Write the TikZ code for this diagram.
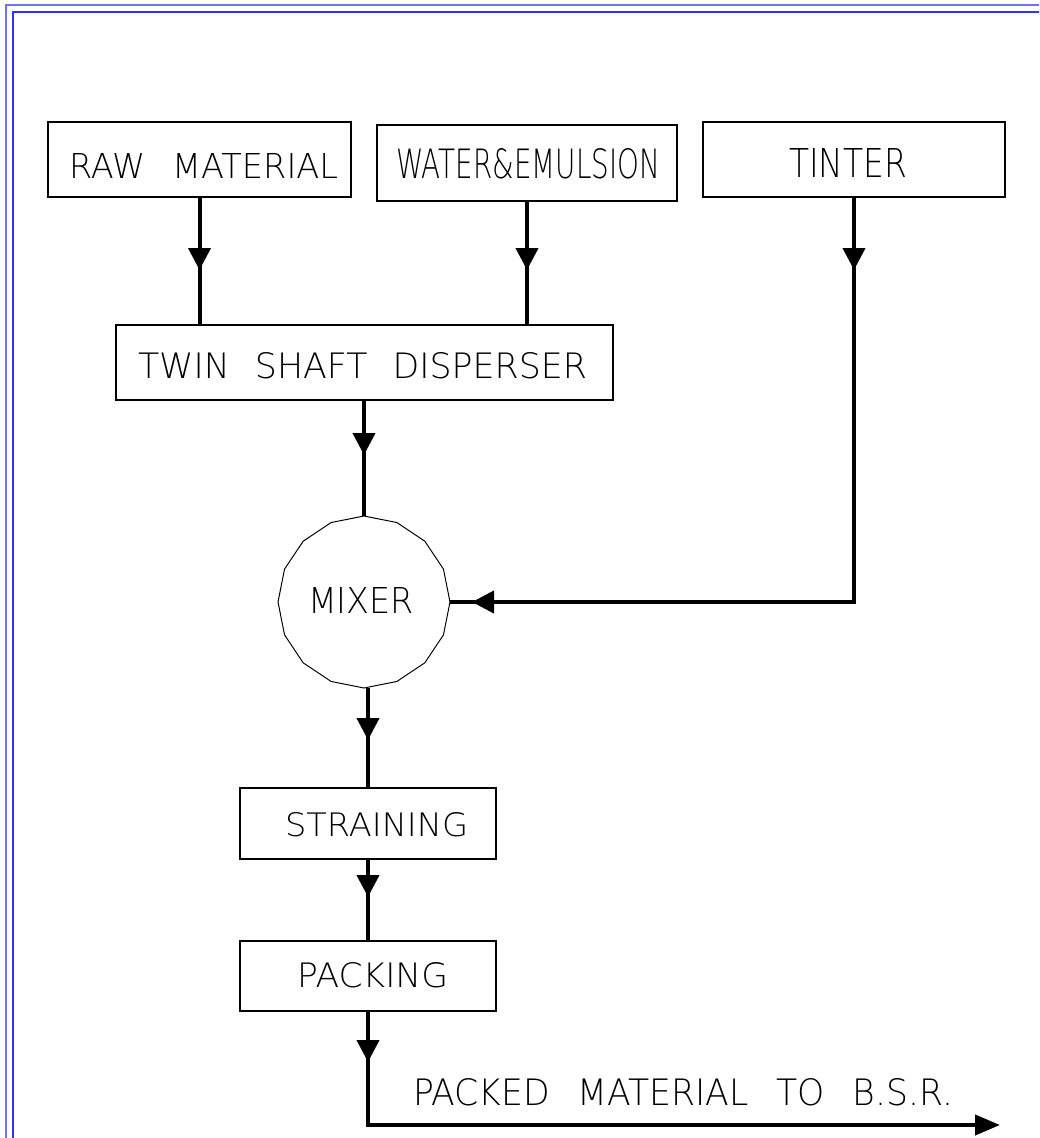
\documentclass[tikz,border=0pt]{standalone}
\usepackage{graphicx}
\usepackage{fontspec}
\newfontfamily\cadfont{DejaVu Sans ExtraLight}
\usetikzlibrary{arrows.meta,decorations.markings,shapes.geometric,calc}

\definecolor{frameouter}{RGB}{112,112,255}
\definecolor{frameinner}{RGB}{50,50,245}

\tikzset{
  procbox/.style={draw, line width=1.1pt, inner sep=0pt, outer sep=0pt},
  lbl/.style={inner sep=0pt, outer sep=0pt, anchor=base west, font=\cadfont\fontsize{36}{40}\selectfont},
  flow/.style={line width=4pt},
  flowtip/.tip={Triangle[length=22pt,width=22pt]},
  midarrow/.style={postaction={decorate, decoration={markings,
      mark=at position #1 with {\arrow{flowtip}}}}},
}

\begin{document}
\begin{tikzpicture}[x=1pt, y=-1pt]
  \useasboundingbox (0,0) rectangle (1039,1138);
  \clip (0,0) rectangle (1039,1138);

  % sheet frame
  \draw[frameouter, line width=2pt] (6,1150) -- (6,5) -- (1050,5);
  \draw[frameinner, line width=2pt] (13,1150) -- (13,12) -- (1050,12);

  % process boxes
  \node[procbox, minimum width=303pt, minimum height=75pt] (raw)    at (199.5,159.5) {};
  \node[procbox, minimum width=300pt, minimum height=76pt] (water)  at (527,163) {};
  \node[procbox, minimum width=302pt, minimum height=75pt] (tinter) at (854,159.5) {};
  \node[procbox, minimum width=497pt, minimum height=75pt] (disp)   at (364.5,362.5) {};
  \node[draw, line width=1pt, regular polygon, regular polygon sides=16,
        shape border rotate=11.25, minimum size=172pt, inner sep=0pt, outer sep=0pt] (mixer) at (364,602) {};
  \node[procbox, minimum width=256pt, minimum height=71pt] (strain) at (368,823.5) {};
  \node[procbox, minimum width=256pt, minimum height=70pt] (pack)   at (368,976) {};
  \coordinate (out) at (1000,1125);

  % labels
  \node[lbl] (rawtxt)    at (69,178)   {\resizebox{269pt}{25pt}{RAW\hspace{0.8em}MATERIAL}};
  \node[lbl] (watertxt)  at (396,178)  {\resizebox{264pt}{30pt}{WATER\&EMULSION}};
  \node[lbl] (tintertxt) at (789,177)  {\resizebox{118pt}{29pt}{TINTER}};
  \node[lbl] (disptxt)   at (138,378)  {\resizebox{449pt}{26pt}{TWIN\hspace{0.72em}SHAFT\hspace{0.72em}DISPERSER}};
  \node[lbl] (mixertxt)  at (308,613)  {\resizebox{106pt}{26pt}{MIXER}};
  \node[lbl] (straintxt) at (285,836)  {\resizebox{183pt}{24pt}{STRAINING}};
  \node[lbl] (packtxt)   at (297,987)  {\resizebox{151pt}{25pt}{PACKING}};
  \node[lbl] (outtxt)    at (413,1105) {\resizebox{540pt}{27pt}{PACKED\hspace{0.8em}MATERIAL\hspace{0.8em}TO\hspace{0.8em}B.S.R.}};

  % flow lines
  \draw[flow, midarrow=73pt] (raw.south) -- (raw.south |- disp.north);
  \draw[flow, midarrow=69pt] (water.south) -- (water.south |- disp.north);
  \draw[flow, midarrow=73pt, midarrow=787pt] (tinter.south) -- (tinter.south |- mixer.east) -- (mixer.east);
  \draw[flow, midarrow=55pt] (mixer.north |- disp.south) -- (mixer.north);
  \draw[flow, midarrow=52pt] (strain.north |- mixer.south) -- (strain.north);
  \draw[flow, midarrow=38pt] (strain.south) -- (pack.north);
  \draw[flow, midarrow=51pt, -{Triangle[length=25pt,width=20pt]}] (pack.south) -- (pack.south |- out) -- (out);
\end{tikzpicture}
\end{document}
